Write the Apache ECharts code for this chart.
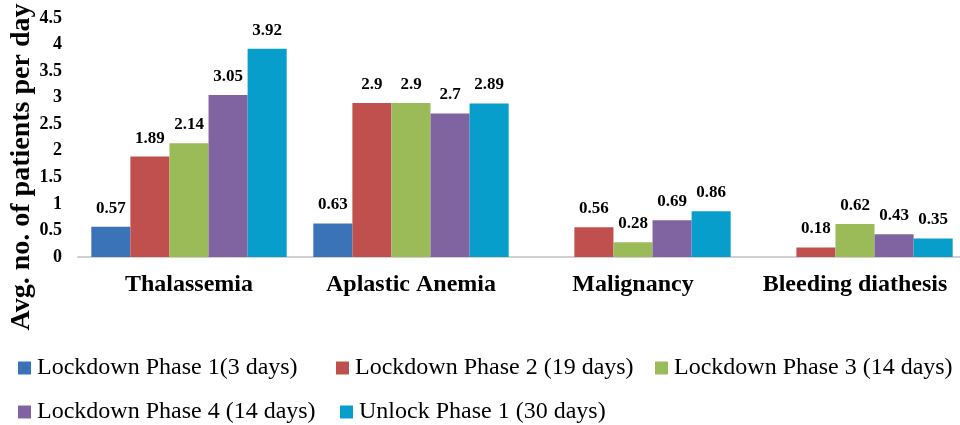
<!DOCTYPE html>
<html>
<head>
<meta charset="utf-8">
<script src="https://cdn.jsdelivr.net/npm/echarts@6/dist/echarts.min.js"></script>
<style>
  html, body { margin: 0; padding: 0; background: #fff; }
  #main { width: 960px; height: 425px; }
</style>
</head>
<body>
<div id="main"></div>
<script>
// categories and series
const categories = ['Thalassemia', 'Aplastic Anemia', 'Malignancy', 'Bleeding diathesis'];
const phase1 = [0.57, 0.63, null, null];
const phase2 = [1.89, 2.9, 0.56, 0.18];
const phase3 = [2.14, 2.9, 0.28, 0.62];
const phase4 = [3.05, 2.7, 0.69, 0.43];
const unlock1 = [3.92, 2.89, 0.86, 0.35];
const seriesNames = [
  'Lockdown Phase 1(3 days)',
  'Lockdown Phase 2 (19 days)',
  'Lockdown Phase 3 (14 days)',
  'Lockdown Phase 4 (14 days)',
  'Unlock Phase 1 (30 days)'
];
const colors = ['#3b73b8', '#c0504d', '#9bbb59', '#8064a2', '#079ecb'];

const serif = '"Liberation Serif", "Times New Roman", serif';
const values = [phase1, phase2, phase3, phase4, unlock1];

// where each legend entry sits (marker left edge, row top)
const legendSpots = [[18, 356], [336, 356], [655, 356], [18, 400], [340, 400]];

const chart = echarts.init(document.getElementById('main'));

const option = {
  animation: false,
  color: colors,
  // plot runs a bit past the right edge of the picture, as in the original
  grid: { left: 78, right: -6, top: 18, bottom: 168, outerBoundsMode: 'none' },
  legend: seriesNames.map((name, i) => ({
    data: [name],
    left: legendSpots[i][0], top: legendSpots[i][1],
    padding: 0,
    icon: 'rect', itemWidth: 13, itemHeight: 13,
    textStyle: { fontFamily: serif, fontSize: 24, color: '#000', padding: [0, 0, 0, 1] }
  })),
  xAxis: {
    type: 'category',
    data: categories,
    axisTick: { show: false },
    axisLine: { lineStyle: { color: '#d0d0d0', width: 2 } },
    axisLabel: {
      interval: 0,
      fontFamily: serif, fontWeight: 'bold', fontSize: 24, color: '#000', margin: 16
    }
  },
  yAxis: {
    type: 'value',
    min: 0, max: 4.5, interval: 0.5,
    splitLine: { show: false },
    axisLine: { show: false },
    axisTick: { show: false },
    axisLabel: {
      fontFamily: serif, fontWeight: 'bold', fontSize: 18, color: '#000', margin: 16
    }
  },
  graphic: [{
    type: 'text',
    x: 22, y: 167,
    rotation: Math.PI / 2,
    style: {
      text: 'Avg. no. of patients per day',
      fontFamily: serif, fontWeight: 'bold', fontSize: 28, fill: '#000',
      textAlign: 'center', textVerticalAlign: 'middle'
    }
  }],
  series: seriesNames.map((name, i) => ({
    name: name,
    type: 'bar',
    data: values[i],
    barGap: '0%',
    barCategoryGap: '12%',
    itemStyle: { color: colors[i] },
    label: {
      show: true,
      position: 'top',
      distance: 10,
      fontFamily: serif, fontWeight: 'bold', fontSize: 17, color: '#000'
    }
  }))
};

chart.setOption(option);
</script>
</body>
</html>
